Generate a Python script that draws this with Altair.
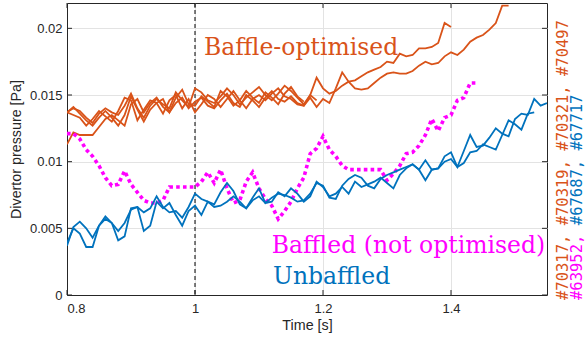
import altair as alt
import pandas as pd

# ---------------- data ----------------
T0 = 0.80   # first sample time [s]
DT = 0.01   # sampling interval [s]

X_TICKS = [0.8, 1.0, 1.2, 1.4]
Y_TICKS = [0, 0.005, 0.01, 0.015, 0.02]

# Baffle-optimised shots (orange)
shot_70317 = [.0137, .0140, .0138, .0133, .0129, .0136, .0140, .0137, .0135, .0142,
              .0151, .0140, .0133, .0142, .0147, .0143, .0140, .0152, .0146, .0141,
              .0155, .0152, .0146, .0144, .0149, .0155, .0150, .0143, .0148, .0152,
              .0156, .0150, .0146, .0151, .0157, .0153, .0148, .0143, .0150, .0163,
              .0155, .0151, .0153, .0157, .0160, .0161, .0164, .0167, .0169, .0171,
              .0175, .0174, .0181, .0179, .0180, .0185, .0185, .0186, .0189, .0204,
              .0201]
shot_70319 = [.0137, .0135, .0133, .0127, .0132, .0138, .0134, .0130, .0138, .0148,
              .0146, .0131, .0139, .0146, .0144, .0136, .0146, .0150, .0140, .0147,
              .0137, .0143, .0150, .0147, .0141, .0147, .0153, .0146, .0140, .0147,
              .0150, .0146, .0151, .0155, .0149, .0147, .0143, .0142, .0148, .0141,
              .0147, .0144, .0155, .0167, .0160, .0155, .0154, .0155, .0159, .0163,
              .0166, .0167, .0166, .0166, .0168, .0172, .0175, .0173, .0174, .0179,
              .0182, .0180, .0184, .0190, .0193, .0195, .0199, .0204, .0217, .0217]
shot_70321 = [.0113, .0122, .0120, .0120, .0120, .0126, .0132, .0135, .0131, .0127,
              .0143, .0147, .0137, .0144, .0148, .0141, .0137, .0144, .0148, .0140,
              .0145, .0148, .0142, .0140, .0146, .0151, .0144, .0141, .0150, .0146,
              .0141, .0148, .0153, .0147, .0145, .0149, .0144, .0142, .0150, .0146]
shot_70497 = [.0137, .0141, .0136, .0131, .0127, .0133, .0138, .0133, .0127, .0135,
              .0149, .0139, .0130, .0139, .0144, .0147, .0137, .0148, .0154, .0143,
              .0142, .0149, .0145, .0141, .0153, .0149, .0142, .0146, .0153, .0148,
              .0144, .0152, .0148, .0143, .0151, .0156, .0149, .0145]

# Baffled, not optimised (magenta, dotted)
shot_63952 = [.0121, .0121, .0117, .0109, .0104, .0097, .0088, .0082, .0083, .0093,
              .0083, .0077, .0071, .0069, .0069, .0071, .0081, .0081, .0081, .0081,
              .0081, .0085, .0092, .0084, .0094, .0080, .0069, .0071, .0085, .0092,
              .0080, .0072, .0067, .0057, .0063, .0070, .0080, .0088, .0106, .0110,
              .0119, .0109, .0104, .0097, .0094, .0094, .0094, .0094, .0094, .0094,
              .0086, .0091, .0097, .0106, .0107, .0112, .0120, .0132, .0123, .0133,
              .0135, .0146, .0148, .0159, .0159]

# Unbaffled shots (blue)
shot_67687 = [.0037, .0051, .0055, .0050, .0043, .0052, .0059, .0054, .0048, .0054,
              .0064, .0066, .0062, .0065, .0074, .0066, .0062, .0063, .0058, .0066,
              .0076, .0072, .0070, .0068, .0077, .0084, .0078, .0068, .0065, .0073,
              .0080, .0069, .0073, .0076, .0075, .0073, .0070, .0071, .0076, .0084,
              .0082, .0073, .0072, .0082, .0087, .0090, .0088, .0082, .0080, .0087,
              .0090, .0092, .0094, .0096, .0098, .0094, .0086, .0094, .0095, .0104,
              .0107, .0096, .0108, .0120, .0111, .0112, .0118, .0125, .0121, .0119,
              .0132, .0136, .0135, .0147, .0142, .0144]
shot_67717 = [.0039, .0050, .0046, .0036, .0036, .0052, .0057, .0054, .0041, .0044,
              .0065, .0066, .0048, .0052, .0070, .0065, .0069, .0060, .0052, .0063,
              .0067, .0060, .0070, .0066, .0067, .0070, .0074, .0070, .0065, .0071,
              .0074, .0069, .0070, .0077, .0074, .0080, .0076, .0070, .0074, .0085,
              .0081, .0074, .0076, .0081, .0076, .0085, .0081, .0083, .0085, .0088,
              .0084, .0080, .0090, .0095, .0098, .0094, .0101, .0094, .0095, .0100,
              .0102, .0096, .0099, .0107, .0108, .0113, .0111, .0109, .0120, .0131,
              .0128, .0124, .0136, .0137]

ORANGE = "#D95319"
BLUE = "#0072BD"
MAGENTA = "#FF00FF"
INK = "#262626"

SANS = "Liberation Sans"
SERIF = "DejaVu Serif"
MONO_FONT = "DejaVu Sans Mono"

labels_text = ["Baffle-optimised", "Baffled (not optimised)", "Unbaffled"]
labels_t = [1.014, 1.120, 1.122]
labels_p = [0.0180, 0.00315, 0.00082]
labels_col = [ORANGE, MAGENTA, BLUE]


def frame(name, values):
    return pd.DataFrame({
        "t": [round(T0 + DT * i, 2) for i in range(len(values))],
        "p": values,
        "shot": name,
    })


orange_df = pd.concat([frame("#70317", shot_70317), frame("#70319", shot_70319),
                       frame("#70321", shot_70321), frame("#70497", shot_70497)])
blue_df = pd.concat([frame("#67687", shot_67687), frame("#67717", shot_67717)])
mag_df = frame("#63952", shot_63952)

W, H = 480, 292

x_enc = alt.X("t:Q", scale=alt.Scale(domain=[0.8, 1.55], nice=False, zero=False),
              axis=alt.Axis(values=X_TICKS, format="~g", title="Time [s]", ticks=False,
                            labelPadding=7, titlePadding=3, grid=True))
y_enc = alt.Y("p:Q", scale=alt.Scale(domain=[0, 0.0219], nice=False),
              axis=alt.Axis(values=Y_TICKS, format="~g", title="Divertor pressure [Pa]",
                            ticks=False, labelPadding=5, titlePadding=6, grid=True))

vline = alt.Chart(pd.DataFrame({"t": [1.0]})).mark_rule(
    color="black", strokeWidth=1, strokeDash=[4, 3]).encode(x=x_enc)

orange = alt.Chart(orange_df).mark_line(color=ORANGE, strokeWidth=1.8, clip=True).encode(
    x=x_enc, y=y_enc, detail="shot:N")
blue = alt.Chart(blue_df).mark_line(color=BLUE, strokeWidth=1.8, clip=True).encode(
    x=x_enc, y=y_enc, detail="shot:N")
magenta = alt.Chart(mag_df).mark_line(color=MAGENTA, strokeWidth=3.6, strokeDash=[3.6, 3.2],
                                      strokeCap="butt", clip=True).encode(x=x_enc, y=y_enc)

xt = pd.DataFrame({"t": X_TICKS})
yt = pd.DataFrame({"p": Y_TICKS})
tick_b = alt.Chart(xt).mark_rule(color=INK).encode(x=x_enc, y=alt.value(H), y2=alt.value(H - 5))
tick_t = alt.Chart(xt).mark_rule(color=INK).encode(x=x_enc, y=alt.value(0), y2=alt.value(5))
tick_l = alt.Chart(yt).mark_rule(color=INK).encode(y=y_enc, x=alt.value(0), x2=alt.value(5))
tick_r = alt.Chart(yt).mark_rule(color=INK).encode(y=y_enc, x=alt.value(W - 5), x2=alt.value(W))

ann = alt.Chart(pd.DataFrame({"t": labels_t, "p": labels_p, "label": labels_text, "c": labels_col})).mark_text(
    font=SERIF, fontSize=23.5, align="left", baseline="alphabetic").encode(
    x=x_enc, y=y_enc, text="label:N", color=alt.Color("c:N", scale=None))

MONO = dict(font=MONO_FONT, fontSize=15.5, angle=270, align="left", baseline="middle")
side1 = alt.Chart(pd.DataFrame({"s": ["#70317, #70319, #70321, #70497"]})).mark_text(
    color=ORANGE, **MONO).encode(text="s:N", x=alt.value(496), y=alt.value(297))
side2a = alt.Chart(pd.DataFrame({"s": ["#63952,"]})).mark_text(
    color=MAGENTA, **MONO).encode(text="s:N", x=alt.value(510), y=alt.value(297))
side2b = alt.Chart(pd.DataFrame({"s": ["#67687, #67717"]})).mark_text(
    color=BLUE, **MONO).encode(text="s:N", x=alt.value(510), y=alt.value(297 - 8 * 9.35))

chart = alt.layer(
    vline, orange, magenta, blue, tick_b, tick_t, tick_l, tick_r, ann, side1, side2a, side2b
).properties(
    width=W, height=H,
    autosize=alt.AutoSizeParams(type="none"),
    padding={"left": 67, "top": 3, "right": 40, "bottom": 44},
).configure_view(
    stroke=INK, strokeWidth=1
).configure_axis(
    domainColor=INK, domainWidth=1, gridColor="#e3e3e3", gridWidth=1,
    labelFont=SANS, labelFontSize=13, labelColor=INK,
    titleFont=SANS, titleFontSize=14.3, titleFontWeight="normal", titleColor=INK,
)

chart.save("out.html", embed_options={"renderer": "svg", "actions": False})
